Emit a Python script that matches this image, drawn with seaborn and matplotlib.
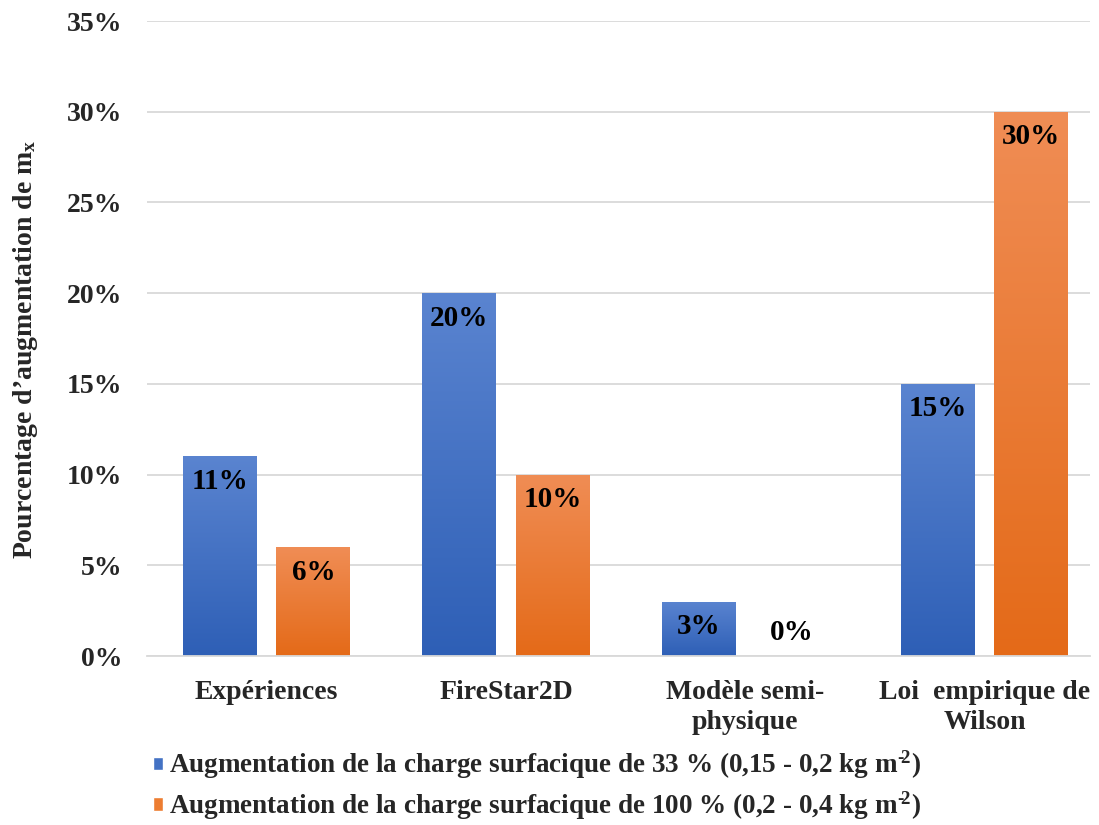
import numpy as np
import pandas as pd
import matplotlib
matplotlib.use("Agg")
import matplotlib.pyplot as plt
from matplotlib.patches import Patch
from matplotlib.colors import LinearSegmentedColormap, to_hex
import seaborn as sns

categories = ["Expériences", "FireStar2D", "Modèle semi-\nphysique", "Loi  empirique de\nWilson"]
series_names = ["Augmentation de la charge surfacique de 33 % (0,15 - 0,2 kg m$^{\u2010\\!2}$)",
                "Augmentation de la charge surfacique de 100 % (0,2 - 0,4 kg m$^{\u2010\\!2}$)"]
values_33 = [0.11, 0.20, 0.03, 0.15]
values_100 = [0.06, 0.10, 0.00, 0.30]
yticks = [0, 0.05, 0.10, 0.15, 0.20, 0.25, 0.30, 0.35]

sns.set_theme(style="white")
plt.rcParams['font.family'] = ['Liberation Serif', 'DejaVu Serif']
plt.rcParams['font.weight'] = 'bold'
plt.rcParams['mathtext.fontset'] = 'custom'
plt.rcParams['mathtext.rm'] = 'Liberation Serif:bold'
plt.rcParams['mathtext.it'] = 'Liberation Serif:italic:bold'
plt.rcParams['mathtext.bf'] = 'Liberation Serif:bold'

df = pd.DataFrame({
    "cat": categories * 2,
    "serie": [series_names[0]] * 4 + [series_names[1]] * 4,
    "val": values_33 + values_100,
})

W, H = 1099, 825
fig = plt.figure(figsize=(W / 100, H / 100), dpi=100)
ax = fig.add_axes([147 / W, 1 - 656 / H, (1090 - 147) / W, (656 - 21) / H])

BLUE, ORANGE = "#4472c4", "#ed7d31"
palette = {series_names[0]: BLUE, series_names[1]: ORANGE}
sns.barplot(data=df, x="cat", y="val", hue="serie", palette=palette, ax=ax,
            width=0.78, gap=0.21, legend=False, saturation=1, linewidth=0)

grad = {
    BLUE: LinearSegmentedColormap.from_list("b", ["#2E5FB6", "#5A84D0"]),
    ORANGE: LinearSegmentedColormap.from_list("o", ["#E46A18", "#F08D55"]),
}
gimg = np.linspace(0, 1, 256).reshape(-1, 1)
for p in list(ax.patches):
    fc = to_hex(p.get_facecolor()).lower()
    h = p.get_height()
    if h <= 0 or fc not in grad:
        continue
    x0 = p.get_x()
    w = p.get_width()
    im = ax.imshow(gimg, extent=[x0, x0 + w, 0, h], origin="lower", cmap=grad[fc],
                   aspect="auto", zorder=p.get_zorder() + 0.1, interpolation="bilinear")
    im.set_clip_path(p)

ax.set_xlim(-0.5, 3.44)
ax.set_ylim(0, 0.35)
ax.set_yticks(yticks)
ax.set_yticklabels([f"{int(round(t * 100))}%" for t in yticks], fontsize=20, fontweight="bold")
ax.set_xticks(range(len(categories)))
ax.set_xticklabels(categories, fontsize=20, fontweight="bold", linespacing=1.3)
ax.tick_params(axis="x", length=0, pad=17)
ax.tick_params(axis="y", length=0, pad=18)
ax.yaxis.grid(True, color="#D9D9D9", linewidth=1.3)
ax.set_axisbelow(True)
for s in ["top", "right", "left"]:
    ax.spines[s].set_visible(False)
ax.spines["bottom"].set_color("#D9D9D9")
ax.spines["bottom"].set_linewidth(1.3)
ax.set_xlabel("")
ax.set_ylabel("Pourcentage d\u2019augmentation de m$_{\\mathrm{x}}$", fontsize=20, fontweight="bold")
ax.yaxis.set_label_coords(-(147 - 40) / (1090 - 147), (656 - 349) / (656 - 21))

# data labels
offs = 0.39 / 2
for i, (a, b) in enumerate(zip(values_33, values_100)):
    for xv, v in ((i - offs, a), (i + offs, b)):
        dy = -18 if v > 0 else 17
        ax.annotate(f"{int(round(v * 100))}%", xy=(xv, v), xytext=(0, dy),
                    textcoords="offset points", ha="center", va="center",
                    fontsize=21, fontweight="bold", color="black", zorder=5)

handles = [Patch(facecolor=BLUE, label=series_names[0]),
           Patch(facecolor=ORANGE, label=series_names[1])]
fig.legend(handles=handles, loc="upper left", bbox_to_anchor=(153 / W, 1 - 749 / H),
           frameon=False, prop={"family": "Liberation Serif", "weight": "bold", "size": 19.5},
           handlelength=0.37, handleheight=0.37, handletextpad=0.22, labelspacing=0.3,
           borderaxespad=0, borderpad=0)

fig.savefig("out.png", dpi=100, facecolor="white")
